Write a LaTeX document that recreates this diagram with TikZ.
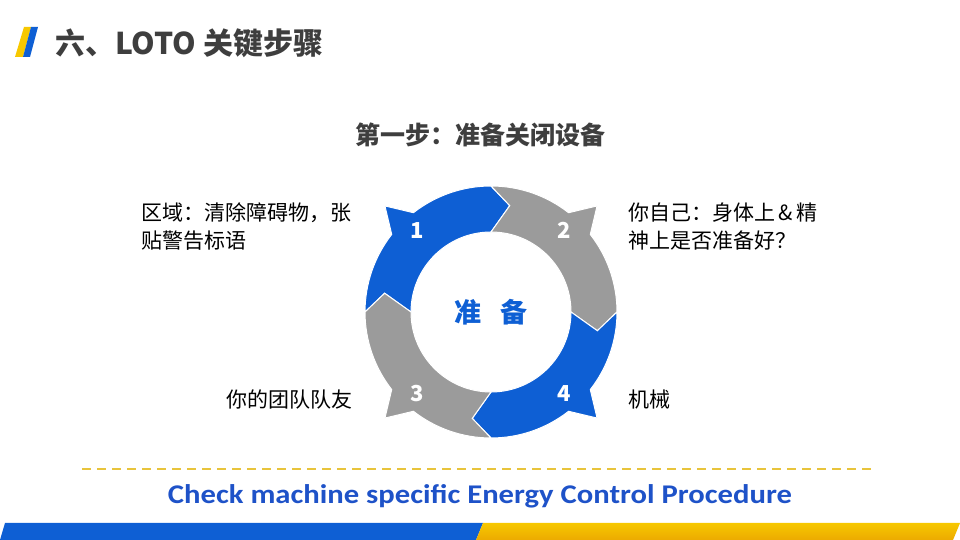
\documentclass[tikz,border=0pt]{standalone}
\usepackage{fontspec}
\newfontfamily\cjk{Noto Sans CJK SC}
\newfontfamily\carlito{Carlito}
\usepackage{tikz}

\definecolor{lotoblue}{RGB}{14,95,212}
\definecolor{lotogray}{RGB}{155,155,155}
\definecolor{lotoyellow}{RGB}{247,200,0}
\definecolor{lotoorange}{RGB}{236,170,0}
\definecolor{darktext}{RGB}{62,62,62}
\definecolor{dashyellow}{RGB}{232,196,60}
\definecolor{checkblue}{RGB}{30,82,200}

\tikzset{
  seg/.style={draw=white, line width=1pt, line join=miter},
  numtxt/.style={text=white, font=\cjk\bfseries\fontsize{22}{26}\selectfont},
  lbl/.style={font=\cjk\fontsize{21}{28}\selectfont, text=black, inner sep=0pt, align=left},
}

\begin{document}
\begin{tikzpicture}[x=1pt, y=1pt]
  \useasboundingbox (0,0) rectangle (960,540);

  % ====== 1) 环形参数 ======
  \pgfmathsetmacro{\Ro}{126}   % 外半径
  \pgfmathsetmacro{\Ri}{80}    % 内半径
  \pgfmathsetmacro{\Rm}{108}   % 箭头尖的半径
  \pgfmathsetmacro{\Rs}{150}   % 外侧尖角
  \coordinate (O) at (491,228);

  % ====== 2) 标题栏 ======
  \fill[lotoyellow] (24,513) -- (31,513) -- (23,483) -- (15,483) -- cycle;
  \fill[lotoblue] (31,513) -- (38,513) -- (30,483) -- (23,483) -- cycle;
  \node[anchor=west, inner sep=0pt, text=darktext,
        font=\cjk\bfseries\fontsize{30}{34}\selectfont] (head) at (55,497) {六、LOTO 关键步骤};
  \node[text=darktext, font=\cjk\bfseries\fontsize{25}{30}\selectfont] (title) at (480,405) {第一步：准备关闭设备};

  % ====== 3) 四段环形箭头（顺时针） ======
  \begin{scope}[shift={(O)}]
    \foreach \s/\c in {180/lotoblue, 90/lotogray, 0/lotoblue, -90/lotogray}{
      \pgfmathsetmacro{\e}{\s-90}
      \pgfmathsetmacro{\m}{\s-45}
      \filldraw[seg, fill=\c] (\s:\Ro) arc[start angle=\s, end angle=\m+7, radius=\Ro]
        -- (\m:\Rs) -- (\m-7:\Ro) arc[start angle=\m-7, end angle=\e, radius=\Ro]
        -- (\e-10:\Rm) -- (\e:\Ri) arc[start angle=\e, end angle=\s, radius=\Ri]
        -- (\s-10:\Rm) -- cycle;
    }
    \node[numtxt] (n1) at (132:110) {1};
    \node[numtxt] (n2) at (48:110) {2};
    \node[numtxt] (n3) at (-132:110) {3};
    \node[numtxt] (n4) at (-48:110) {4};
  \end{scope}
  \node[text=lotoblue, font=\cjk\bfseries\fontsize{27}{30}\selectfont] (core) at (O) {准\hspace{0.7em}备};

  % ====== 4) 四个说明 ======
  \node[lbl, anchor=north west] (area) at (141,337) {区域：清除障碍物，张\\贴警告标语};
  \node[lbl, anchor=north west] (self) at (628,337) {你自己：身体上\,\&\,精\\神上是否准备好？};
  \node[lbl, anchor=east] (team) at (353,140) {你的团队队友};
  \node[lbl, anchor=west] (mach) at (628,140) {机械};

  % ====== 5) 底部 ======
  \coordinate (dl) at (82,71);
  \coordinate (dr) at (873,71);
  \draw[dashyellow, line width=1.8pt, dash pattern=on 9pt off 6pt] (dl) -- (dr);
  \node[text=checkblue, font=\carlito\bfseries\fontsize{27}{30}\selectfont] (check) at (480,44)
    {\scalebox{1.135}[1]{Check machine specific Energy Control Procedure}};
  \fill[lotoblue] (0,0) -- (476,0) -- (483,17) -- (5,17) -- cycle;
  \shade[top color=lotoyellow, bottom color=lotoorange] (476,0) -- (953,0) -- (960,17) -- (483,17) -- cycle;

\end{tikzpicture}
\end{document}
